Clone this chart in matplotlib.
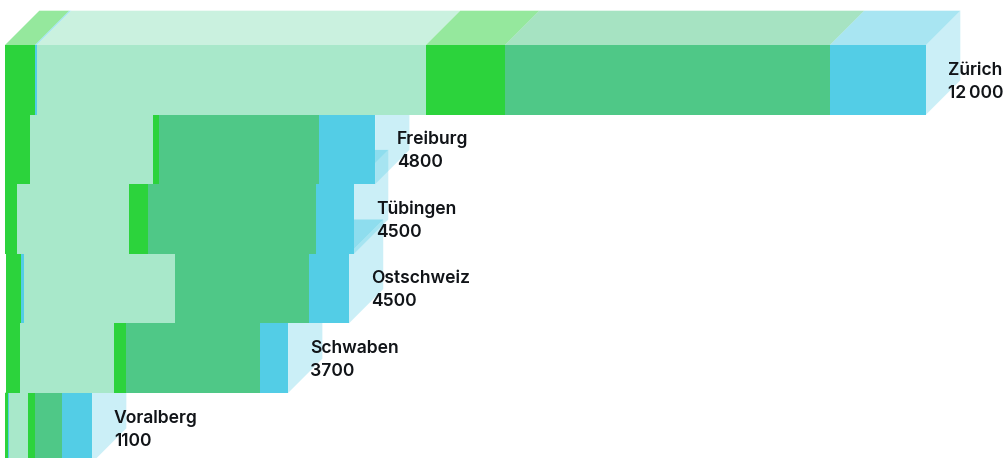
import matplotlib
matplotlib.use("Agg")
import matplotlib.pyplot as plt
from matplotlib.patches import Polygon

regions = ["Zürich", "Freiburg", "Tübingen", "Ostschweiz", "Schwaben", "Voralberg"]
totals = ["12\u2009000", "4800", "4500", "4500", "3700", "1100"]
row_starts = [0, 0, 0, 13, 13, 0]
seg_green_a = [391, 326, 156, 195, 176, 39]
seg_blue_a = [26, 0, 0, 39, 7, 13]
seg_mint = [5068, 1603, 1459, 1967, 1225, 248]
seg_green_b = [1029, 78, 248, 0, 156, 91]
seg_mid = [4235, 2085, 2189, 1746, 1746, 352]
seg_blue_b = [1251, 730, 495, 521, 365, 391]

W, H = 1006, 458
PX_PER_UNIT = 0.07675
ROW_PX = 69.6
DEPTH_PX = 34.3
LEFT_PX = 5.0
TOP_PX = 45.0

GREEN, BLUE, MINT, MID = "#2CD33C", "#53CDE6", "#A8E8CA", "#4FC887"
series = [(seg_green_a, GREEN, 0.5), (seg_blue_a, BLUE, 0.5), (seg_mint, MINT, 0.6),
          (seg_green_b, GREEN, 0.5), (seg_mid, MID, 0.5), (seg_blue_b, BLUE, 0.5)]

fig = plt.figure(figsize=(W / 100, H / 100), dpi=100)
ax = fig.add_axes([0, 0, 1, 1])
ax.set_xlim(-LEFT_PX / PX_PER_UNIT, (W - LEFT_PX) / PX_PER_UNIT)
ax.set_ylim((H - TOP_PX) / ROW_PX, -TOP_PX / ROW_PX)
ax.axis("off")

dx = DEPTH_PX / PX_PER_UNIT
dy = DEPTH_PX / ROW_PX

for i in range(len(regions) - 1, -1, -1):
    left = row_starts[i]
    for values, color, top_alpha in series:
        v = values[i]
        if v <= 0:
            continue
        ax.add_patch(Polygon([(left, i), (left + v, i), (left + v + dx, i - dy), (left + dx, i - dy)],
                             closed=True, facecolor=color, alpha=top_alpha, edgecolor="none"))
        left += v
    ax.add_patch(Polygon([(left, i), (left + dx, i - dy), (left + dx, i + 1 - dy), (left, i + 1)],
                         closed=True, facecolor=BLUE, alpha=0.3, edgecolor="none"))
    start = row_starts[i]
    for values, color, _ in series:
        v = values[i]
        if v > 0:
            ax.barh(i, v, height=1, left=start, color=color, align="edge", linewidth=0)
        start += v
    label_x = left + 22 / PX_PER_UNIT
    ax.text(label_x, i + 0.5 - 0.14, regions[i], family=["Inter", "DejaVu Sans"], fontweight="semibold",
            fontsize=12.6, color="#111418", va="center", ha="left")
    ax.text(label_x, i + 0.5 + 0.19, totals[i], family=["Inter", "DejaVu Sans"], fontweight="semibold",
            fontsize=12.6, color="#111418", va="center", ha="left")

fig.savefig("out.png", dpi=100)
